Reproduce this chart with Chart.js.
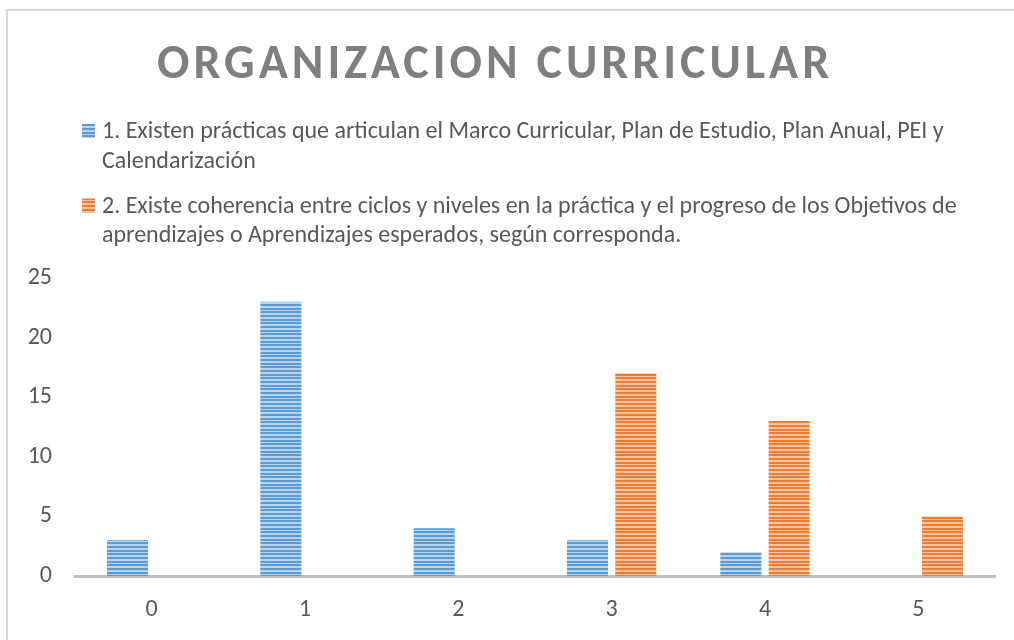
<!DOCTYPE html>
<html>
<head>
<meta charset="utf-8">
<script src="https://cdn.jsdelivr.net/npm/chart.js@4.4.0/dist/chart.umd.min.js"></script>
<style>
  body { margin: 0; background: #fff; }
  canvas { display: block; }
</style>
</head>
<body>
<canvas id="grafico" width="1014" height="640"></canvas>
<script>
const titulo = 'ORGANIZACION CURRICULAR';
const categorias = ['0', '1', '2', '3', '4', '5'];
const serie1 = [3, 23, 4, 3, 2, 0];
const serie2 = [0, 0, 0, 17, 13, 5];
const leyenda1 = ['1. Existen prácticas que articulan el Marco Curricular, Plan de Estudio, Plan Anual, PEI y', 'Calendarización'];
const leyenda2 = ['2. Existe coherencia entre ciclos y niveles en la práctica y el progreso de los Objetivos de', 'aprendizajes o Aprendizajes esperados, según corresponda.'];
const ticksY = [0, 5, 10, 15, 20, 25];

Chart.defaults.font.family = 'Carlito';

// relleno rayado horizontal (como el patron de Excel)
const rayas = (oscuro, claro) => {
  const c = document.createElement('canvas');
  c.width = 1;
  c.height = 11;
  const g = c.getContext('2d');
  const filas = [1, 1, 0, 1, 1, 0, 0, 1, 1, 0, 0];
  filas.forEach((f, i) => {
    g.fillStyle = f ? oscuro : claro;
    g.fillRect(0, i, 1, 1);
  });
  return g.createPattern(c, 'repeat');
};

// titulo, leyenda de dos lineas y borde del grafico
const encabezado = {
  id: 'encabezado',
  beforeDraw(chart) {
    const ctx = chart.ctx;
    ctx.save();
    ctx.strokeStyle = '#d9d9d9';
    ctx.lineWidth = 2;
    ctx.strokeRect(7, 10, chart.width + 10, chart.height + 10);
    ctx.restore();
  },
  afterDraw(chart) {
    const ctx = chart.ctx;
    ctx.save();
    ctx.textBaseline = 'alphabetic';
    ctx.fillStyle = '#7f7f7f';
    ctx.font = 'bold 48px Carlito';
    ctx.letterSpacing = '4px';
    ctx.fillText(titulo, 157, 78);
    ctx.letterSpacing = '0px';

    ctx.font = '24px Carlito';
    let y = 138;
    chart.data.datasets.forEach(ds => {
      ctx.fillStyle = ds.backgroundColor;
      ctx.fillRect(82, y - 14, 13, 14);
      ctx.fillStyle = '#595959';
      ds.label.forEach((linea, i) => ctx.fillText(linea, 102, y + i * 29.5));
      y += 74.5;
    });
    ctx.restore();
  }
};

const canvas = document.getElementById('grafico');
const ctx = canvas.getContext('2d');

new Chart(ctx, {
  type: 'bar',
  data: {
    labels: categorias,
    datasets: [
      {
        label: leyenda1,
        data: serie1,
        backgroundColor: rayas('#5b9bd5', '#b9d3ed'),
        categoryPercentage: 0.63,
        barPercentage: 0.85
      },
      {
        label: leyenda2,
        data: serie2,
        backgroundColor: rayas('#ed7d31', '#f7c3a0'),
        categoryPercentage: 0.63,
        barPercentage: 0.85
      }
    ]
  },
  options: {
    responsive: false,
    animation: false,
    layout: {
      padding: { top: 278, right: 19, left: 0, bottom: 0 }
    },
    plugins: {
      legend: { display: false },
      tooltip: { enabled: false },
      title: { display: false }
    },
    scales: {
      x: {
        grid: { display: false, drawTicks: false },
        border: { color: '#bfbfbf', width: 3 },
        ticks: { color: '#595959', font: { size: 24 }, padding: 20 },
        afterFit: s => { s.height = 64; }
      },
      y: {
        min: ticksY[0],
        max: ticksY[ticksY.length - 1],
        ticks: { stepSize: ticksY[1] - ticksY[0], color: '#595959', font: { size: 24 }, padding: 23 },
        grid: { display: false, drawTicks: false },
        border: { display: false },
        afterFit: s => { s.width = 75; }
      }
    }
  },
  plugins: [encabezado]
});
</script>
</body>
</html>
